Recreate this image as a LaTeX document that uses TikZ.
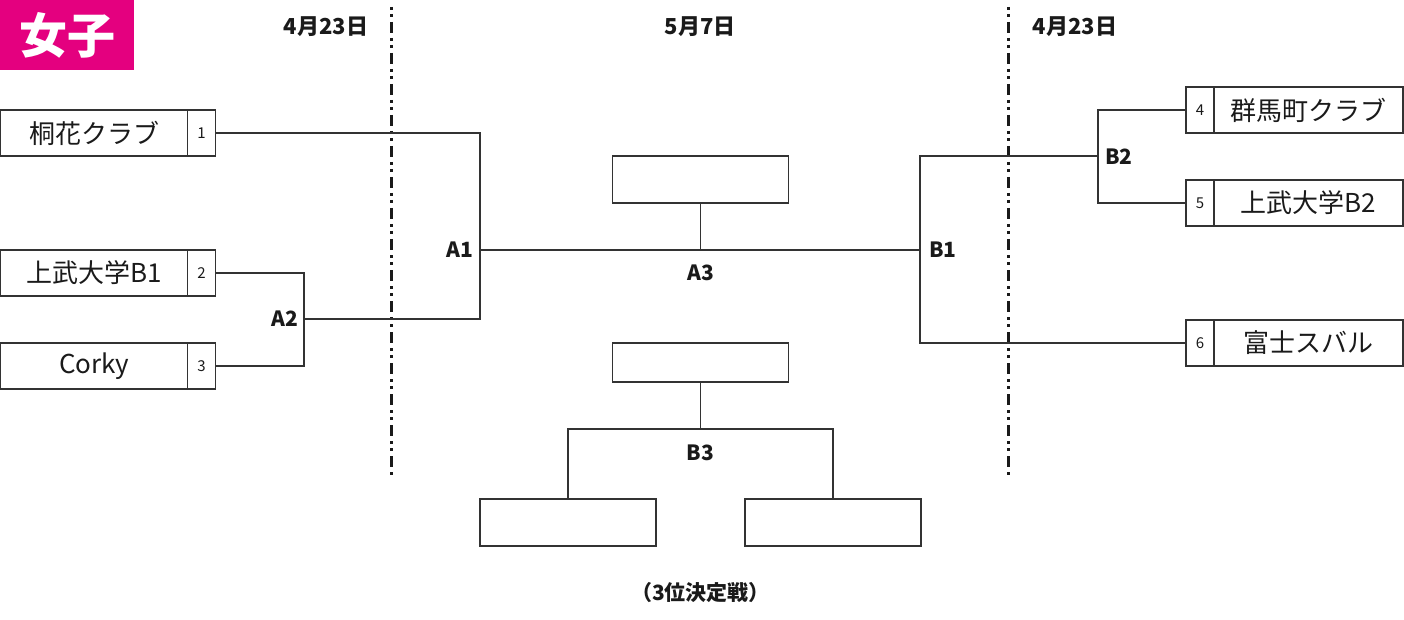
\documentclass[tikz,border=0pt]{standalone}
\usepackage{fontspec}
\setmainfont{Noto Sans CJK JP}
\definecolor{linec}{HTML}{333333}
\definecolor{txtc}{HTML}{1A1A1A}
\definecolor{pink}{HTML}{E4007F}
\begin{document}
\begin{tikzpicture}[x=1pt,y=-1pt,
  namebox/.style={draw=linec, line width=1.4pt, minimum width=187pt, minimum height=46pt, inner sep=0pt, text=txtc, font=\fontsize{26}{26}\selectfont},
  numbox/.style={draw=linec, line width=1.4pt, minimum width=28pt, minimum height=46pt, inner sep=0pt, text=txtc, font=\fontsize{15}{15}\selectfont},
  emptybox/.style={draw=linec, line width=1.4pt, minimum width=176pt, minimum height=47pt, inner sep=0pt},
  lbl/.style={inner sep=0pt, text=txtc, font=\bfseries\fontsize{21}{21}\selectfont},
  datelbl/.style={inner sep=0pt, text=txtc, font=\bfseries\fontsize{22}{22}\selectfont},
  conn/.style={draw=linec, line width=1.3pt},
  divider/.style={draw=txtc, line width=2.6pt, dash pattern=on 3pt off 4pt on 3pt off 5pt on 11pt off 5pt}
]
\useasboundingbox (0,0) rectangle (1404,620);
% title
\node[fill=pink, minimum width=134pt, minimum height=70pt, inner sep=0pt, anchor=north west, text=white, font=\bfseries\fontsize{48}{48}\selectfont] (title) at (0,0) {女子};
% dates
\node[datelbl] (d1) at (326,27) {4月23日};
\node[datelbl] (d2) at (700,27) {5月7日};
\node[datelbl] (d3) at (1075,27) {4月23日};
% dividers
\coordinate (v1t) at (391.5,7);
\coordinate (v1b) at (391.5,476);
\coordinate (v2t) at (1008.5,7);
\coordinate (v2b) at (1008.5,476);
\draw[divider] (v1t) -- (v1b);
\draw[divider] (v2t) -- (v2b);
% left teams
\node[namebox] (t1) at (94.2,133) {桐花クラブ};
\node[numbox] (n1) at (201.5,133) {1};
\node[namebox] (t2) at (94.2,273) {上武大学B1};
\node[numbox] (n2) at (201.5,273) {2};
\node[namebox] (t3) at (94.2,366) {Corky};
\node[numbox] (n3) at (201.5,366) {3};
% right teams
\node[numbox] (n4) at (1200,110) {4};
\node[namebox, minimum width=189pt] (t4) at (1308.5,110) {群馬町クラブ};
\node[numbox] (n5) at (1200,203) {5};
\node[namebox, minimum width=189pt] (t5) at (1308.5,203) {上武大学B2};
\node[numbox] (n6) at (1200,343) {6};
\node[namebox, minimum width=189pt] (t6) at (1308.5,343) {富士スバル};
% junctions
\coordinate (a2x) at (304,319);
\coordinate (a1x) at (480,250);
\coordinate (b1x) at (920,250);
\coordinate (b2x) at (1098,156);
% final boxes
\node[emptybox] (a3box) at (700.5,179.5) {};
\node[emptybox, minimum height=39pt] (b3box) at (700.5,362.5) {};
\node[emptybox] (b3l) at (568,522.5) {};
\node[emptybox] (b3r) at (833,522.5) {};
\coordinate (b3j) at (700.5,429);
% connectors
\draw[conn] (n2.east) -| (a2x) |- (n3.east);
\draw[conn] (n1.east) -| (a1x) |- (a2x);
\draw[conn] (a1x) -- (b1x);
\draw[conn] (a3box.south) -- (a3box.south |- a1x);
\draw[conn] (n6.west) -| (b1x) |- (b2x);
\draw[conn] (n4.west) -| (b2x) |- (n5.west);
\draw[conn] (b3box.south) -- (b3j);
\draw[conn] (b3l.north) -- (b3l.north |- b3j) -- (b3r.north |- b3j) -- (b3r.north);
% labels
\node[lbl, anchor=east] (la2) at (298,319) {A2};
\node[lbl, anchor=east] (la1) at (473,250) {A1};
\node[lbl] (la3) at (700.5,273) {A3};
\node[lbl, anchor=west] (lb1) at (929,250) {B1};
\node[lbl, anchor=west] (lb2) at (1105,157) {B2};
\node[lbl] (lb3) at (700.5,453) {B3};
\node[datelbl, font=\bfseries\fontsize{21}{21}\selectfont] (third) at (700.5,593) {（3位決定戦）};
\end{tikzpicture}
\end{document}
